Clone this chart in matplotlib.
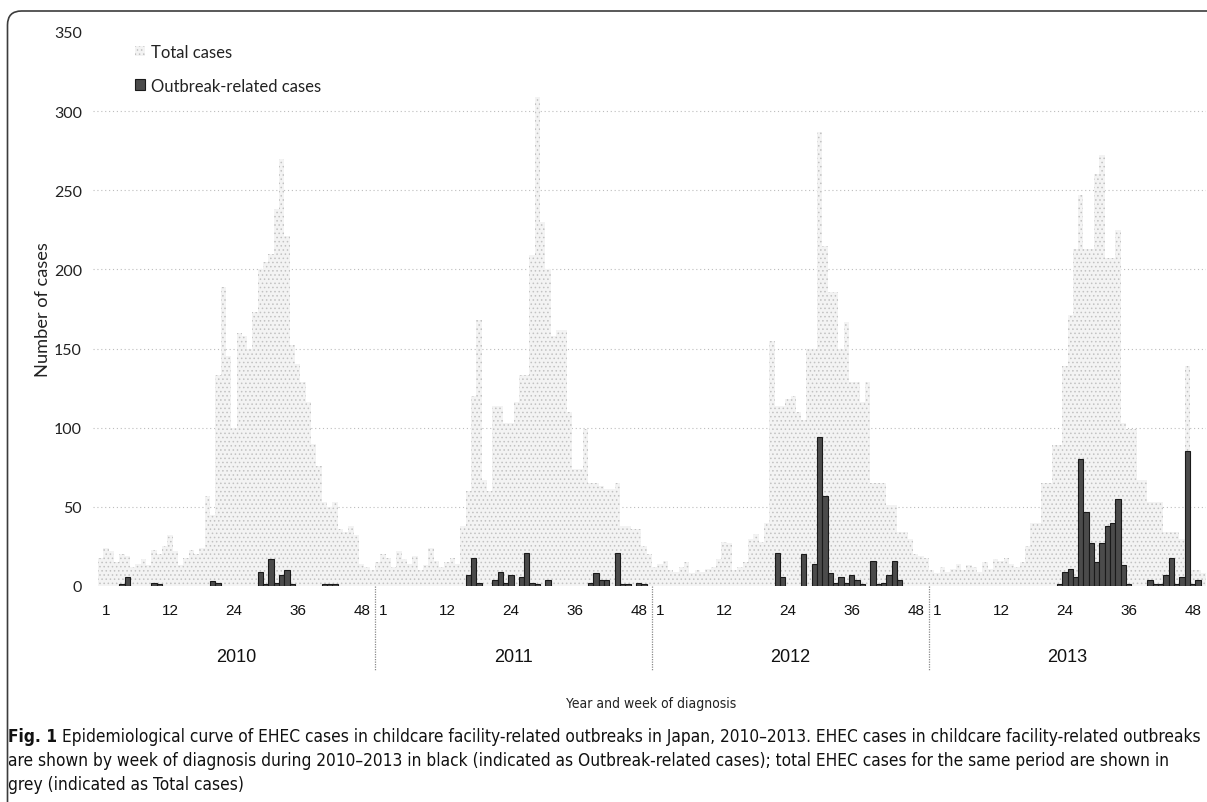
import matplotlib
matplotlib.use('Agg')
import matplotlib.pyplot as plt
import numpy as np
from matplotlib import font_manager
from matplotlib.font_manager import FontProperties
from matplotlib.patches import PathPatch
from matplotlib.path import Path
from matplotlib.transforms import IdentityTransform, blended_transform_factory

# ---------------- data ----------------
years = ['2010', '2011', '2012', '2013']
week_tick_labels = ['1', '12', '24', '36', '48']
y_ticks = [0, 50, 100, 150, 200, 250, 300, 350]

total_2010 = [18, 24, 22, 15, 20, 19, 12, 14, 17, 13,
              23, 20, 25, 32, 22, 13, 18, 23, 20, 24,
              57, 45, 133, 189, 145, 100, 160, 158, 150, 173,
              200, 205, 210, 238, 270, 221, 152, 140, 129, 116,
              90, 76, 53, 50, 53, 36, 34, 38, 32, 14,
              12, 10]
total_2011 = [15, 20, 18, 12, 22, 17, 14, 19, 10, 13,
              24, 16, 12, 15, 18, 14, 38, 60, 120, 168,
              67, 60, 114, 114, 103, 103, 116, 133, 133, 209,
              309, 230, 200, 158, 162, 162, 110, 74, 74, 99,
              65, 65, 63, 61, 61, 65, 38, 38, 36, 36,
              25, 20]
total_2012 = [12, 14, 16, 10, 9, 12, 15, 8, 10, 9,
              11, 12, 17, 28, 27, 10, 12, 15, 30, 33,
              28, 40, 155, 114, 114, 118, 120, 110, 105, 150,
              150, 287, 215, 186, 186, 150, 167, 129, 129, 116,
              129, 65, 65, 65, 51, 51, 34, 34, 30, 20,
              19, 18]
total_2013 = [10, 8, 12, 9, 11, 14, 10, 13, 12, 9,
              15, 11, 17, 16, 18, 14, 12, 15, 25, 40,
              40, 65, 65, 89, 89, 139, 171, 213, 247, 213,
              213, 260, 272, 207, 207, 225, 103, 99, 99, 67,
              67, 53, 53, 53, 34, 34, 34, 30, 139, 10,
              10, 8]

outbreak_2010 = [0, 0, 0, 0, 1, 6, 0, 0, 0, 0,
                 2, 1, 0, 0, 0, 0, 0, 0, 0, 0,
                 0, 3, 2, 0, 0, 0, 0, 0, 0, 0,
                 9, 1, 17, 2, 7, 10, 1, 0, 0, 0,
                 0, 0, 1, 1, 1, 0, 0, 0, 0, 0,
                 0, 0]
outbreak_2011 = [0, 0, 0, 0, 0, 0, 0, 0, 0, 0,
                 0, 0, 0, 0, 0, 0, 0, 7, 18, 2,
                 0, 0, 4, 9, 2, 7, 0, 6, 21, 2,
                 1, 0, 4, 0, 0, 0, 0, 0, 0, 0,
                 2, 8, 4, 4, 0, 21, 1, 1, 0, 2,
                 1, 0]
outbreak_2012 = [0, 0, 0, 0, 0, 0, 0, 0, 0, 0,
                 0, 0, 0, 0, 0, 0, 0, 0, 0, 0,
                 0, 0, 0, 21, 6, 0, 0, 0, 20, 0,
                 14, 94, 57, 8, 2, 6, 2, 7, 4, 1,
                 0, 16, 1, 2, 7, 16, 4, 0, 0, 0,
                 0, 0]
outbreak_2013 = [0, 0, 0, 0, 0, 0, 0, 0, 0, 0,
                 0, 0, 0, 0, 0, 0, 0, 0, 0, 0,
                 0, 0, 0, 0, 1, 9, 11, 6, 80, 47,
                 27, 15, 27, 38, 40, 55, 13, 1, 0, 0,
                 0, 4, 1, 1, 7, 18, 1, 6, 85, 1,
                 4, 0]

caption_bold = 'Fig. 1'
caption_l1 = ('Epidemiological curve of EHEC cases in childcare facility-related outbreaks in Japan, '
              '2010\u20132013. EHEC cases in childcare facility-related outbreaks')
caption_l2 = ('are shown by week of diagnosis during 2010\u20132013 in black (indicated as Outbreak-related cases); '
              'total EHEC cases for the same period are shown in')
caption_l3 = 'grey (indicated as Total cases)'

# ---------------- fonts ----------------
def _w(f):
    if isinstance(f.weight, (int, float)):
        return f.weight
    return {'normal': 400, 'regular': 400, 'book': 400, 'bold': 700}.get(str(f.weight).lower(), 400)

def find_condensed(target_weight):
    best = None
    for f in font_manager.fontManager.ttflist:
        fn = f.fname.lower()
        nm = f.name.lower()
        if f.style != 'normal' or 'cjk' in fn or 'mono' in fn or 'serif' in nm and 'sans' not in nm:
            continue
        st = str(f.stretch).lower()
        cond = ('condensed' in st or 'narrow' in nm or 'condensed' in nm
                or 'narrow' in fn or 'condensed' in fn)
        if not cond:
            continue
        score = abs(_w(f) - target_weight)
        if 'extra' in st or 'ultra' in st or 'extra' in fn or 'ultra' in fn:
            score += 60
        if 'semi' in st or 'semi' in fn:
            score += 20
        if best is None or score < best[0]:
            best = (score, f.fname)
    return best[1] if best else None

_reg = find_condensed(400)
_bold = find_condensed(700)
if _reg:
    NARROW_FP = FontProperties(fname=_reg)
else:
    NARROW_FP = FontProperties(family='Liberation Sans')
if _bold:
    NARROW_BOLD_FP = FontProperties(fname=_bold)
else:
    NARROW_BOLD_FP = FontProperties(family='Liberation Sans', weight='bold')

CAL = 'Lato'
ARIAL = 'Liberation Sans'

plt.rcParams['hatch.linewidth'] = 0.6

# ---------------- figure ----------------
W, H = 1207, 803
fig = plt.figure(figsize=(W / 100, H / 100), dpi=100)
ax = fig.add_axes([93 / W, 1 - 587 / H, (1206 - 93) / W, (587 - 33) / H])

totals = np.concatenate([total_2010, total_2011, total_2012, total_2013])
outbreaks = np.concatenate([outbreak_2010, outbreak_2011, outbreak_2012, outbreak_2013])
nweek = len(total_2010)
x = np.arange(len(totals))

ax.bar(x, totals, width=1.0, facecolor='#f3f3f3', edgecolor='#c2c2c2', linewidth=0,
       hatch='....', zorder=2, label='Total cases')
m = outbreaks > 0
ax.bar(x[m], outbreaks[m], width=1.0, facecolor='#4b4b4b', edgecolor='#1a1a1a',
       linewidth=0.8, zorder=3, label='Outbreak-related cases')

ax.set_xlim(-1.44, len(totals) - 0.5)
ax.set_ylim(0, 350)
for s in ax.spines.values():
    s.set_visible(False)

for v in y_ticks[1:-1]:
    ax.axhline(v, color='#bdbdbd', lw=0.8, ls=(0, (1, 2.5)), zorder=1)

ax.set_yticks(y_ticks)
ax.set_yticklabels([str(v) for v in y_ticks], fontfamily=CAL, fontsize=11.5, color='#222222')
tick_offsets = [1, 13, 25, 37, 49]
xt = [yi * nweek + o for yi in range(len(years)) for o in tick_offsets]
ax.set_xticks(xt)
ax.set_xticklabels(week_tick_labels * len(years), fontfamily=ARIAL, fontsize=11, color='#111111')
ax.tick_params(axis='both', length=0)
ax.tick_params(axis='x', pad=12.5)
ax.tick_params(axis='y', pad=8)

bt = blended_transform_factory(ax.transData, fig.transFigure)
for yi in range(1, len(years)):
    b = yi * nweek - 0.5
    ax.plot([b, b], [1 - 587 / H, 1 - 672 / H], transform=bt, clip_on=False,
            color='#8a8a8a', lw=0.9, ls=(0, (1, 1)))
for yi, yr in enumerate(years):
    fig.text(yi * nweek + (nweek - 1) / 2, 1 - 657 / H, yr, transform=bt,
             ha='center', va='center', fontfamily=ARIAL, fontsize=13, color='#111111')

leg = ax.legend(loc='upper left', bbox_to_anchor=(135 / W, 1 - 45 / H), bbox_transform=fig.transFigure,
                frameon=False, borderpad=0, borderaxespad=0, handlelength=0.6, handleheight=0.6,
                handletextpad=0.35, labelspacing=1.05, prop=FontProperties(family=CAL, size=12))
for t in leg.get_texts():
    t.set_color('#222222')

ylab = fig.text(43 / W, 1 - 310 / H, 'Number of cases', rotation=90, ha='center', va='center',
                fontfamily=CAL, fontsize=12.5, color='#222222')
xlab = fig.text(651 / W, 1 - 704 / H, 'Year and week of diagnosis', ha='center', va='center',
                fontproperties=NARROW_FP.copy(), color='#222222')
xlab.set_fontsize(12)

c0 = fig.text(8 / W, 1 - 737 / H, caption_bold, ha='left', va='center',
              fontproperties=NARROW_BOLD_FP.copy(), color='#111111')
c1 = fig.text(60 / W, 1 - 737 / H, caption_l1, ha='left', va='center',
              fontproperties=NARROW_FP.copy(), color='#111111')
c2 = fig.text(8 / W, 1 - 761 / H, caption_l2, ha='left', va='center',
              fontproperties=NARROW_FP.copy(), color='#111111')
c3 = fig.text(8 / W, 1 - 785 / H, caption_l3, ha='left', va='center',
              fontproperties=NARROW_FP.copy(), color='#111111')
for t in (c0, c1, c2, c3):
    t.set_fontsize(12)

# frame: open path (left edge + rounded corner + top edge)
top = H - 12
rad = 14
verts = [(7.5, 0), (7.5, top - rad), (7.5, top), (7.5 + rad, top), (W, top)]
codes = [Path.MOVETO, Path.LINETO, Path.CURVE3, Path.CURVE3, Path.LINETO]
frame = PathPatch(Path(verts, codes), transform=IdentityTransform(), fill=False,
                  edgecolor='#3c3c3c', lw=1.2)
fig.add_artist(frame)

# ---------- fit text sizes to the reference layout ----------
fig.canvas.draw()
r = fig.canvas.get_renderer()

def fit(t, target, dim='w'):
    e = t.get_window_extent(r)
    cur = e.width if dim == 'w' else e.height
    t.set_fontsize(t.get_fontsize() * target / cur)

fit(ylab, 136, 'h')
fit(xlab, 170, 'w')

def place_c1():
    w0 = c0.get_window_extent(r).width
    c1.set_x((8 + w0 + c0.get_fontsize() * 0.28 * 100 / 72) / W)

for _ in range(3):
    place_c1()
    fig.canvas.draw()
    total_w = c1.get_window_extent(r).x1 - 8
    s = c0.get_fontsize() * (1189 / total_w)
    for t in (c0, c1, c2, c3):
        t.set_fontsize(s)
    fig.canvas.draw()
place_c1()

fig.savefig('out.png', dpi=100)
